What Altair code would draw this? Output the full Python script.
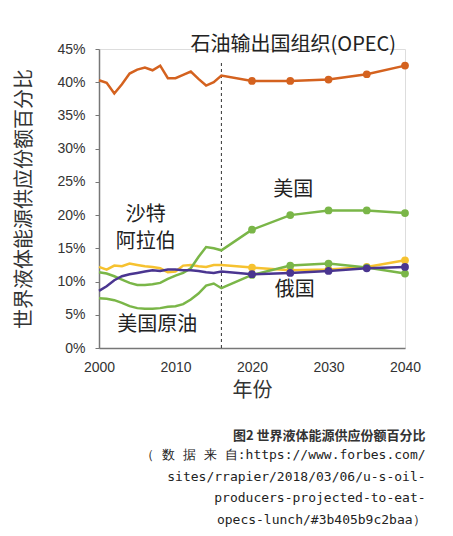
import altair as alt
import pandas as pd

hist_years = list(range(2000, 2017))
fc_years = [2016, 2020, 2025, 2030, 2035, 2040]

series_names = ["OPEC", "沙特阿拉伯", "美国", "美国原油", "俄国"]
series_colors = ["#d4621f", "#f6c230", "#7ab648", "#7ab648", "#4a3590"]

opec_hist = [40.3, 39.9, 38.3, 39.7, 41.3, 41.9, 42.2, 41.8, 42.5, 40.6, 40.6, 41.1, 41.6, 40.5, 39.5, 40.0, 41.0]
saudi_hist = [12.2, 11.8, 12.4, 12.3, 12.7, 12.5, 12.3, 12.2, 12.0, 11.4, 11.5, 12.4, 12.5, 12.3, 12.2, 12.5, 12.5]
us_hist = [11.4, 11.2, 10.8, 10.3, 9.8, 9.5, 9.5, 9.6, 9.8, 10.4, 10.9, 11.3, 12.0, 13.7, 15.2, 15.0, 14.7]
crude_hist = [7.5, 7.4, 7.2, 6.8, 6.3, 6.0, 5.9, 5.9, 6.0, 6.2, 6.3, 6.6, 7.3, 8.2, 9.4, 9.7, 9.0]
russia_hist = [8.6, 9.3, 10.2, 10.8, 11.1, 11.3, 11.5, 11.7, 11.6, 11.8, 11.8, 11.7, 11.7, 11.6, 11.4, 11.3, 11.5]

opec_fc = [41.0, 40.2, 40.2, 40.4, 41.2, 42.5]
saudi_fc = [12.5, 12.1, 11.7, 11.8, 12.2, 13.2]
us_fc = [14.7, 17.8, 20.0, 20.7, 20.7, 20.3]
crude_fc = [9.0, 11.0, 12.4, 12.7, 12.1, 11.2]
russia_fc = [11.5, 11.1, 11.3, 11.6, 12.0, 12.2]

label_texts = ["石油输出国组织(OPEC)", "美国", "沙特", "阿拉伯", "俄国", "美国原油"]
label_years = [2025.4, 2025.4, 2006.1, 2006.1, 2025.6, 2007.6]
label_values = [45.6, 23.8, 20.0, 16.0, 8.7, 3.5]

divider_year = 2016
divider_top = 43.3

x_ticks = [2000, 2010, 2020, 2030, 2040]
y_ticks = [0, 5, 10, 15, 20, 25, 30, 35, 40, 45]

caption_title = "图2  世界液体能源供应份额百分比"
caption_lines = [
    "（ 数 据 来 自:https://www.forbes.com/",
    "sites/rrapier/2018/03/06/u-s-oil-",
    "producers-projected-to-eat-",
    "opecs-lunch/#3b405b9c2baa）",
]

hist_all = [opec_hist, saudi_hist, us_hist, crude_hist, russia_hist]
fc_all = [opec_fc, saudi_fc, us_fc, crude_fc, russia_fc]

x_scale = alt.Scale(domain=[2000, 2040], nice=False, zero=False)
y_scale = alt.Scale(domain=[0, 45], nice=False)

x_axis = alt.Axis(values=x_ticks, format="d", title="年份",
                  ticks=False, grid=False, labelFontSize=14, labelColor="#333",
                  labelFont="Liberation Sans", labelPadding=12, labelFlush=False,
                  labelOverlap=False,
                  titleFont="Noto Sans CJK SC", titleFontSize=20, titleFontWeight="normal",
                  titleColor="#333", titlePadding=6, domainColor="#777", domainWidth=1.5)
y_axis = alt.Axis(values=y_ticks, labelExpr="datum.value + '%'",
                  title="世界液体能源供应份额百分比", grid=False, tickSize=4, tickColor="#777",
                  labelFontSize=14, labelColor="#333", labelFont="Liberation Sans",
                  labelPadding=10, labelOverlap=False, labelFlush=False,
                  titleFont="Noto Sans CJK SC", titleFontSize=20,
                  titleFontWeight="normal", titleColor="#333", titlePadding=22,
                  domainColor="#777", domainWidth=1.5)

X = lambda f: alt.X(f, scale=x_scale, axis=x_axis)
Y = lambda f: alt.Y(f, scale=y_scale, axis=y_axis)

layers = []
div_df = pd.DataFrame({"year": [divider_year], "lo": [0], "hi": [divider_top]})
layers.append(alt.Chart(div_df).mark_rule(strokeDash=[3, 3], color="#333", strokeWidth=1).encode(
    x=X("year:Q"), y=Y("lo:Q"), y2="hi:Q"))

draw_order = [0, 1, 2, 3, 4]
for i in draw_order:
    years = hist_years + fc_years[1:]
    vals = hist_all[i] + fc_all[i][1:]
    df = pd.DataFrame({"year": years, "value": vals})
    pts = pd.DataFrame({"year": fc_years[1:], "value": fc_all[i][1:]})
    layers.append(alt.Chart(df).mark_line(color=series_colors[i], strokeWidth=2.5).encode(
        x=X("year:Q"), y=Y("value:Q")))
    layers.append(alt.Chart(pts).mark_circle(color=series_colors[i], size=60, opacity=1).encode(
        x=X("year:Q"), y=Y("value:Q")))

lab_df = pd.DataFrame({"t": label_texts, "year": label_years, "value": label_values})
layers.append(alt.Chart(lab_df).mark_text(font="Noto Sans CJK SC", fontSize=20, color="#222",
                                          align="center", baseline="middle").encode(
    x=X("year:Q"), y=Y("value:Q"), text="t:N"))

chart = alt.layer(*layers).properties(
    width=306, height=299,
    padding={"left": 6, "top": 27, "right": 5, "bottom": 5},
    title=alt.TitleParams(text=caption_title, subtitle=caption_lines, orient="bottom",
                          anchor="end", dx=5, offset=30, font="Noto Sans CJK SC",
                          fontSize=13, fontWeight="bold", color="#333",
                          subtitleFont="DejaVu Sans Mono", subtitleFontSize=13,
                          subtitleColor="#222", subtitleLineHeight=21.5, subtitlePadding=6),
).configure_view(stroke=None).configure(background="white")

chart.save("out.html", embed_options={"renderer": "svg", "actions": False})
